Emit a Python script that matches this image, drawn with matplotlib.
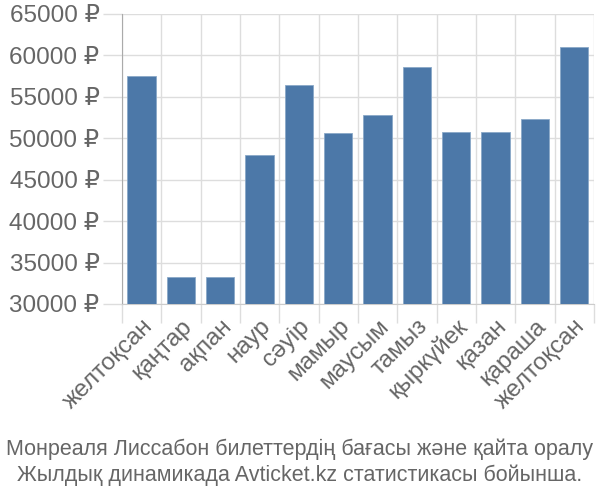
import numpy as np
import matplotlib.pyplot as plt
import matplotlib.ticker as ticker

plt.rcParams['font.family'] = ['Liberation Sans', 'DejaVu Sans']

months = ['желтоқсан', 'қаңтар', 'ақпан', 'наур', 'сәуір', 'мамыр', 'маусым',
          'тамыз', 'қыркүйек', 'қазан', 'қараша', 'желтоқсан']
prices = [57500, 33200, 33200, 47950, 56450, 50600, 52800,
          58600, 50700, 50700, 52300, 61050]
yticks = [30000, 35000, 40000, 45000, 50000, 55000, 60000, 65000]
caption = ('Монреаля Лиссабон билеттердің бағасы және қайта оралу\n'
           'Жылдық динамикада Avticket.kz статистикасы бойынша.')

fig = plt.figure(figsize=(6, 5), dpi=100)
ax = fig.add_axes([0.203, 0.392, 0.787, 0.58])

x = np.arange(len(months))
ax.bar(x, prices, width=0.72, color='#4c78a8', edgecolor='#8aa8c8', linewidth=0.6, zorder=3)

ax.set_xlim(-0.5, len(months) - 0.5)
ax.set_ylim(30000, 65000)
ax.set_yticks(yticks)
ax.yaxis.set_major_formatter(ticker.FuncFormatter(lambda v, pos: '%d ₽' % v))

ax.set_xticks(x)
ax.set_xticklabels(months, rotation=45, ha='right', rotation_mode='anchor')
ax.set_xticks(np.arange(len(months) + 1) - 0.5, minor=True)

ax.grid(axis='y', color='#dddddd', linewidth=1, zorder=0)
ax.grid(axis='x', which='minor', color='#dddddd', linewidth=1, zorder=0)
ax.tick_params(axis='x', which='major', length=0, pad=8, labelsize=17.5, labelcolor='#666666')
ax.tick_params(axis='x', which='minor', length=14, color='#dddddd', width=1)
ax.tick_params(axis='y', length=14, color='#dddddd', width=1, pad=2, labelsize=17.5, labelcolor='#666666')

for s in ['top', 'right']:
    ax.spines[s].set_visible(False)
ax.spines['left'].set_color('#aaaaaa')
ax.spines['bottom'].set_color('#cccccc')

fig.text(0.5, 0.076, caption, ha='center', va='center', fontsize=15.5,
         color='#666666', linespacing=1.25)

plt.savefig('out.png')
